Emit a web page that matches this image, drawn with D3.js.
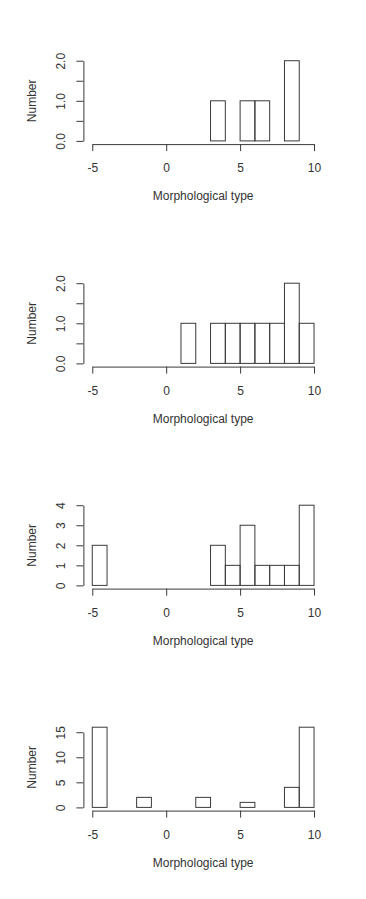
<!DOCTYPE html>
<html>
<head>
<meta charset="utf-8">
<script src="https://cdn.jsdelivr.net/npm/d3@7"></script>
<style>
  html, body { margin: 0; padding: 0; background: #fff; }
  svg { display: block; }
  text { font-family: "Liberation Sans", Arial, Helvetica, sans-serif; fill: #333; }
</style>
</head>
<body>
<svg id="chart" width="366" height="899"></svg>
<script>
// Histogram bin edges (width 1, from -5 to 10)
const binStarts = [-5, -4, -3, -2, -1, 0, 1, 2, 3, 4, 5, 6, 7, 8, 9];
const binWidth = 1;

// Counts per bin for each of the four panels
const counts1 = [0, 0, 0, 0, 0, 0, 0, 0, 1, 0, 1, 1, 0, 2, 0];
const counts2 = [0, 0, 0, 0, 0, 0, 1, 0, 1, 1, 1, 1, 1, 2, 1];
const counts3 = [2, 0, 0, 0, 0, 0, 0, 0, 2, 1, 3, 1, 1, 1, 4];
const counts4 = [16, 0, 0, 2, 0, 0, 0, 2, 0, 0, 1, 0, 0, 4, 16];

// Axis ticks
const xTicks = [-5, 0, 5, 10];
const xTickLabels = ["-5", "0", "5", "10"];
const yTicks1 = [0, 0.5, 1, 1.5, 2];
const yTickLabels1 = ["0.0", "", "1.0", "", "2.0"];
const yTicks3 = [0, 1, 2, 3, 4];
const yTickLabels3 = ["0", "1", "2", "3", "4"];
const yTicks4 = [0, 5, 10, 15];
const yTickLabels4 = ["0", "5", "10", "15"];

const xLabel = "Morphological type";
const yLabel = "Number";

const panels = [
  { counts: counts1, yTicks: yTicks1, yLabels: yTickLabels1, top: 57.5 },
  { counts: counts2, yTicks: yTicks1, yLabels: yTickLabels1, top: 280 },
  { counts: counts3, yTicks: yTicks3, yLabels: yTickLabels3, top: 502 },
  { counts: counts4, yTicks: yTicks4, yLabels: yTickLabels4, top: 724 }
];

const svg = d3.select("#chart");
const left = 83.4, right = 322.9, plotH = 86.6;
const stroke = "#3a3a3a";
const fontSize = 12;

panels.forEach(p => {
  const bottom = p.top + plotH;
  const ymax = d3.max(p.counts);
  const x = d3.scaleLinear().domain([-5.6, 10.6]).range([left, right]);
  const y = d3.scaleLinear().domain([-0.04 * ymax, 1.04 * ymax]).range([bottom, p.top]);
  const g = svg.append("g");

  // bars (including zero-height ones, drawn as lines like R's hist)
  g.selectAll("rect.bar")
    .data(binStarts.map((s, i) => ({ s, c: p.counts[i] })))
    .join("rect")
    .attr("class", "bar")
    .attr("x", d => x(d.s))
    .attr("width", d => x(d.s + binWidth) - x(d.s))
    .attr("y", d => y(d.c))
    .attr("height", d => y(0) - y(d.c))
    .attr("fill", "none")
    .attr("stroke", stroke)
    .attr("stroke-width", 1);

  // x axis
  const xa = d3.scaleLinear().domain([-5, 10]).range([x(-5), x(10)]);
  const xAxis = g.append("g")
    .attr("transform", `translate(0,${bottom})`)
    .call(d3.axisBottom(xa).tickValues(xTicks).tickSizeInner(7).tickSizeOuter(0)
      .tickFormat((d, i) => xTickLabels[i]));
  xAxis.selectAll("path, line").attr("stroke", stroke);
  xAxis.selectAll("text").attr("font-size", fontSize).attr("dy", 0).attr("y", 28)
    .style("font-family", "'Liberation Sans', Arial, sans-serif").attr("fill", "#333");

  // y axis
  const ya = d3.scaleLinear().domain([0, d3.max(p.yTicks)]).range([y(0), y(d3.max(p.yTicks))]);
  const yAxis = g.append("g")
    .attr("transform", `translate(${left},0)`)
    .call(d3.axisLeft(ya).tickValues(p.yTicks).tickSizeInner(7).tickSizeOuter(0)
      .tickFormat((d, i) => p.yLabels[i]));
  yAxis.selectAll("path, line").attr("stroke", stroke);
  yAxis.selectAll("text")
    .attr("font-size", fontSize)
    .attr("x", 0).attr("dy", 0)
    .attr("text-anchor", "middle")
    .attr("transform", "translate(-18,0) rotate(-90)")
    .style("font-family", "'Liberation Sans', Arial, sans-serif").attr("fill", "#333");

  // axis titles
  g.append("text")
    .attr("x", (left + right) / 2)
    .attr("y", bottom + 56)
    .attr("text-anchor", "middle")
    .attr("font-size", fontSize)
    .text(xLabel);
  g.append("text")
    .attr("transform", `translate(36,${(p.top + bottom) / 2}) rotate(-90)`)
    .attr("text-anchor", "middle")
    .attr("font-size", fontSize)
    .text(yLabel);
});
</script>
</body>
</html>
